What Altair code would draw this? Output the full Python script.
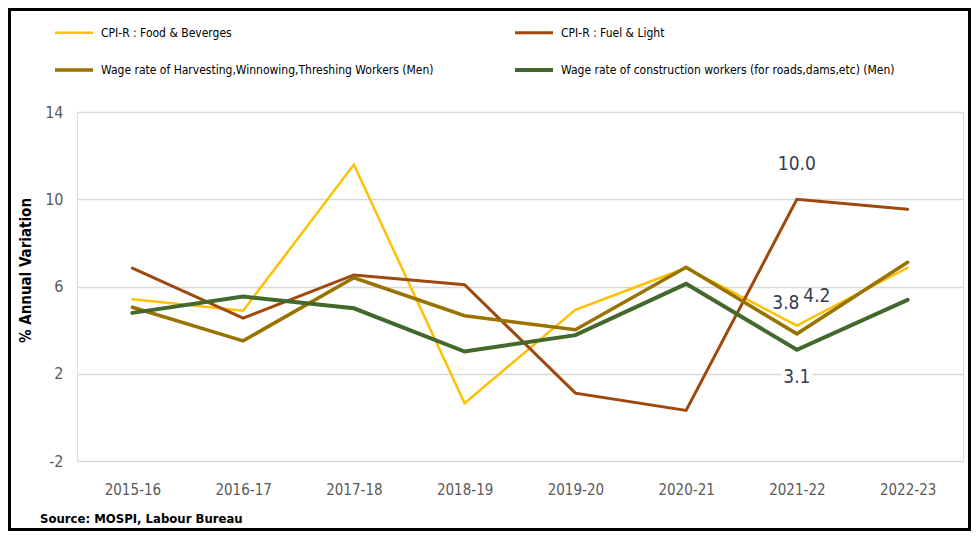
import altair as alt
import pandas as pd

FONT = "DejaVu Sans Condensed, Roboto, sans-serif"

years = ["2015-16", "2016-17", "2017-18", "2018-19", "2019-20", "2020-21", "2021-22", "2022-23"]
series_names = [
    "CPI-R : Food & Beverges",
    "CPI-R : Fuel & Light",
    "Wage rate of Harvesting,Winnowing,Threshing Workers (Men)",
    "Wage rate of construction workers (for roads,dams,etc) (Men)",
]
food = [5.42, 4.89, 11.59, 0.65, 4.93, 6.85, 4.21, 6.86]
fuel = [6.84, 4.55, 6.53, 6.08, 1.11, 0.32, 10.0, 9.54]
harvest = [5.05, 3.51, 6.40, 4.66, 4.02, 6.88, 3.83, 7.11]
construction = [4.79, 5.54, 5.00, 3.02, 3.77, 6.12, 3.10, 5.39]
colors = ["#FFC000", "#9E480E", "#997300", "#43682B"]
widths = [2.5, 4, 4, 4]

label_year = ["2021-22", "2021-22", "2021-22", "2021-22"]
label_value = [10.0, 3.83, 4.21, 3.10]
label_text = ["10.0", "3.8", "4.2", "3.1"]

rows = []
for name, vals in zip(series_names, [food, fuel, harvest, construction]):
    for yr, v in zip(years, vals):
        rows.append({"year": yr, "series": name, "value": v})
df = pd.DataFrame(rows)
labels = pd.DataFrame({"year": label_year, "value": label_value, "text": label_text})

W, H = 886, 349
PAD = {"left": 69, "top": 104, "right": 8, "bottom": 70}

x_enc = alt.X("year:N", sort=years,
              axis=alt.Axis(title=None, labelAngle=0, labelFont=FONT, labelFontSize=15,
                            labelColor="#595959", labelPadding=21, ticks=False,
                            domain=False, grid=False))
y_scale = alt.Scale(domain=[-2, 14], nice=False, zero=False)

lines = alt.Chart(df).mark_line(strokeCap="round", strokeJoin="miter").encode(
    x=x_enc,
    y=alt.Y("value:Q", scale=y_scale,
            axis=alt.Axis(values=[-2, 2, 6, 10, 14], title="% Annual Variation",
                          labelExpr="toString(datum.value)",
                          labelFont=FONT, labelFontSize=16, labelColor="#595959",
                          labelPadding=14, ticks=False, domain=False,
                          gridColor="#D9D9D9", gridWidth=1.5,
                          titleFont=FONT, titleFontSize=15, titleFontWeight="bold",
                          titleColor="black", titleX=-44, titleY=158)),
    color=alt.Color("series:N", sort=series_names,
                    scale=alt.Scale(domain=series_names, range=colors),
                    legend=alt.Legend(title=None, orient="none", legendX=-24, legendY=-100,
                                      columns=2, direction="horizontal",
                                      symbolType="stroke", symbolSize=1444,
                                      symbolStrokeWidth=5, labelFont=FONT, labelFontSize=12,
                                      labelColor="black", labelLimit=600, labelOffset=6,
                                      columnPadding=73, rowPadding=10)),
    strokeWidth=alt.StrokeWidth("series:N", scale=alt.Scale(domain=series_names, range=widths),
                                legend=None),
    order=alt.Order("year:N"),
)

def label_layer(txt, dx, dy, size=19):
    return alt.Chart(labels).transform_filter(alt.datum.text == txt).mark_text(
        font=FONT, fontSize=size, color="#333F50", dx=dx, dy=dy
    ).encode(x=alt.X("year:N", sort=years), y=alt.Y("value:Q", scale=y_scale), text="text:N")

bg31 = alt.Chart(labels).transform_filter(alt.datum.text == "3.1").mark_point(
    shape="M-1,-0.5L1,-0.5L1,0.5L-1,0.5Z", filled=True, fill="white", opacity=1,
    strokeWidth=0, size=1000, yOffset=27
).encode(x=alt.X("year:N", sort=years), y=alt.Y("value:Q", scale=y_scale))

border = alt.Chart(pd.DataFrame({"a": [0]})).mark_rect(
    filled=False, stroke="black", strokeWidth=3
).encode(
    x=alt.value(-PAD["left"] + 1.5), x2=alt.value(W + PAD["right"] - 1.5),
    y=alt.value(-PAD["top"] + 1.5), y2=alt.value(H + PAD["bottom"] - 1.5),
)

chart = alt.layer(
    lines,
    bg31,
    label_layer("10.0", 0, -35),
    label_layer("3.8", -11, -31),
    label_layer("4.2", 20, -30),
    label_layer("3.1", 0, 27),
    border,
).properties(
    width=W, height=H, padding=PAD, autosize="none",
    title=alt.TitleParams("Source:  MOSPI, Labour Bureau", orient="bottom", anchor="start",
                          frame="group", font=FONT, fontSize=13, fontWeight="bold",
                          color="black", dx=-37, offset=-18),
).configure_view(strokeWidth=0).configure(background="white")

chart.save("out.html", embed_options={"renderer": "svg", "actions": False})
